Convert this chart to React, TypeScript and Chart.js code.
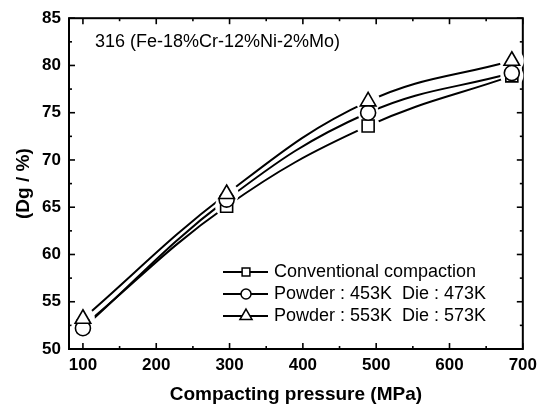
import React, { useEffect, useRef } from 'react';
import { Chart, registerables } from 'chart.js';
import { drawPoint } from 'chart.js/helpers';

Chart.register(...registerables);

// ---- data ----
const pressures = [100, 296, 489, 685];
const conventional = [52.4, 65.1, 73.6, 78.9];
const powder453 = [52.2, 65.8, 75.0, 79.2];
const powder553 = [53.2, 66.4, 76.2, 80.5];
const xTicks = [100, 200, 300, 400, 500, 600, 700];
const yTicks = [50, 55, 60, 65, 70, 75, 80, 85];
const seriesLabels = [
  'Conventional compaction',
  'Powder : 453K  Die : 473K',
  'Powder : 553K  Die : 573K',
];
const annotationText = '316 (Fe-18%Cr-12%Ni-2%Mo)';
const xTitle = 'Compacting pressure (MPa)';
const yTitle = '(Dg / %)';

const FONT = '"Liberation Sans", Arial, sans-serif';
const markerStyles = ['rect', 'circle', 'triangle'];
const markerRadii = [8.5, 7.5, 9];
const markerOrder = [1.2, 1.1, 1.0];
const legendRadii = [5.5, 5, 7];

const toPoints = (ys: number[]) => pressures.map((x, i) => ({ x, y: ys[i] }));

const framePlugin = {
  id: 'frame',
  beforeDatasetsDraw(chart: any) {
    const { ctx, chartArea, scales } = chart;
    const { left, right, top, bottom } = chartArea;
    const x = scales.x;
    const y = scales.y;
    ctx.save();
    ctx.strokeStyle = '#000';
    ctx.lineWidth = 2;
    ctx.strokeRect(left, top, right - left, bottom - top);
    ctx.lineWidth = 1.6;
    const tick = (x1: number, y1: number, x2: number, y2: number) => {
      ctx.beginPath();
      ctx.moveTo(x1, y1);
      ctx.lineTo(x2, y2);
      ctx.stroke();
    };
    xTicks.forEach((v, i) => {
      const px = x.getPixelForValue(v);
      tick(px, bottom, px, bottom - 6);
      tick(px, top, px, top + 6);
      if (i < xTicks.length - 1) {
        const mx = x.getPixelForValue(v + 50);
        tick(mx, bottom, mx, bottom - 3);
        tick(mx, top, mx, top + 3);
      }
    });
    yTicks.forEach((v, i) => {
      const py = y.getPixelForValue(v);
      tick(left, py, left + 6, py);
      tick(right, py, right - 6, py);
      if (i < yTicks.length - 1) {
        const my = y.getPixelForValue(v + 2.5);
        tick(left, my, left + 3, my);
        tick(right, my, right - 3, my);
      }
    });
    ctx.restore();
  },
  afterDraw(chart: any) {
    const { ctx } = chart;
    ctx.save();
    ctx.fillStyle = '#000';
    ctx.textBaseline = 'middle';
    ctx.textAlign = 'left';
    ctx.font = `18px ${FONT}`;
    ctx.fillText(annotationText, 95, 42);

    const rows = [272, 294, 316];
    seriesLabels.forEach((label, i) => {
      const yy = rows[i];
      ctx.strokeStyle = '#000';
      ctx.lineWidth = 2;
      ctx.beginPath();
      ctx.moveTo(223, yy);
      ctx.lineTo(268, yy);
      ctx.stroke();
      ctx.fillStyle = '#fff';
      ctx.lineWidth = 1.5;
      drawPoint(ctx, { pointStyle: markerStyles[i], radius: legendRadii[i], rotation: 0, borderWidth: 1.5 } as any, 246, yy);
      ctx.fillStyle = '#000';
      ctx.font = `18px ${FONT}`;
      ctx.fillText(label, 274, yy);
    });
    ctx.restore();
  },
};

export default function App() {
  const canvasRef = useRef<HTMLCanvasElement | null>(null);

  useEffect(() => {
    document.body.style.margin = '0';
    const canvas = canvasRef.current;
    if (!canvas) return;
    const seriesData = [conventional, powder453, powder553];
    const lineSets = seriesData.map((ys, i) => ({
      label: seriesLabels[i],
      data: toPoints(ys),
      borderColor: '#000',
      borderWidth: 2,
      pointRadius: 0,
      tension: 0.4,
      fill: false,
      order: 3,
    }));
    const haloSets = seriesData.map((ys, i) => ({
      label: 'halo' + i,
      data: toPoints(ys),
      showLine: false,
      pointStyle: 'circle' as any,
      pointRadius: markerRadii[i] + 3,
      pointBorderWidth: 0,
      pointBorderColor: '#fff',
      pointBackgroundColor: '#fff',
      order: 2,
      clip: false as any,
    }));
    const markerSets = seriesData.map((ys, i) => ({
      label: seriesLabels[i] + ' markers',
      data: toPoints(ys),
      showLine: false,
      pointStyle: markerStyles[i] as any,
      pointRadius: markerRadii[i],
      pointBorderWidth: 1.6,
      pointBorderColor: '#000',
      pointBackgroundColor: '#fff',
      order: markerOrder[i],
      clip: false as any,
    }));
    const chart = new Chart(canvas, {
      type: 'line',
      data: { datasets: [...lineSets, ...haloSets, ...markerSets] as any },
      options: {
        responsive: false,
        animation: false,
        devicePixelRatio: 1,
        layout: { padding: { top: 14, right: 20, left: 0, bottom: 0 } },
        plugins: {
          legend: { display: false },
          tooltip: { enabled: false },
        },
        scales: {
          x: {
            type: 'linear',
            min: 81,
            max: 700,
            afterBuildTicks: (axis: any) => {
              axis.ticks = xTicks.map((v) => ({ value: v }));
            },
            afterFit: (scale: any) => {
              scale.height = 62;
            },
            grid: { display: false, drawTicks: false },
            border: { display: false },
            ticks: {
              autoSkip: false,
              maxRotation: 0,
              padding: 6,
              color: '#000',
              font: { family: FONT, size: 17, weight: 'bold' },
            },
            title: {
              display: true,
              text: xTitle,
              color: '#000',
              font: { family: FONT, size: 19, weight: 'bold' },
              padding: { top: 0, bottom: 5 },
            },
          },
          y: {
            type: 'linear',
            min: 50,
            max: 85,
            afterBuildTicks: (axis: any) => {
              axis.ticks = yTicks.map((v) => ({ value: v }));
            },
            afterFit: (scale: any) => {
              scale.width = 69;
            },
            grid: { display: false, drawTicks: false },
            border: { display: false },
            ticks: {
              autoSkip: false,
              padding: 8,
              color: '#000',
              font: { family: FONT, size: 17, weight: 'bold' },
            },
            title: {
              display: true,
              text: yTitle,
              color: '#000',
              font: { family: FONT, size: 19, weight: 'bold' },
              padding: { top: 12, bottom: 0 },
            },
          },
        },
      },
      plugins: [framePlugin],
    });
    return () => chart.destroy();
  }, []);

  return (
    <div style={{ width: 543, height: 411, background: '#fff' }}>
      <canvas ref={canvasRef} width={543} height={411} />
    </div>
  );
}
